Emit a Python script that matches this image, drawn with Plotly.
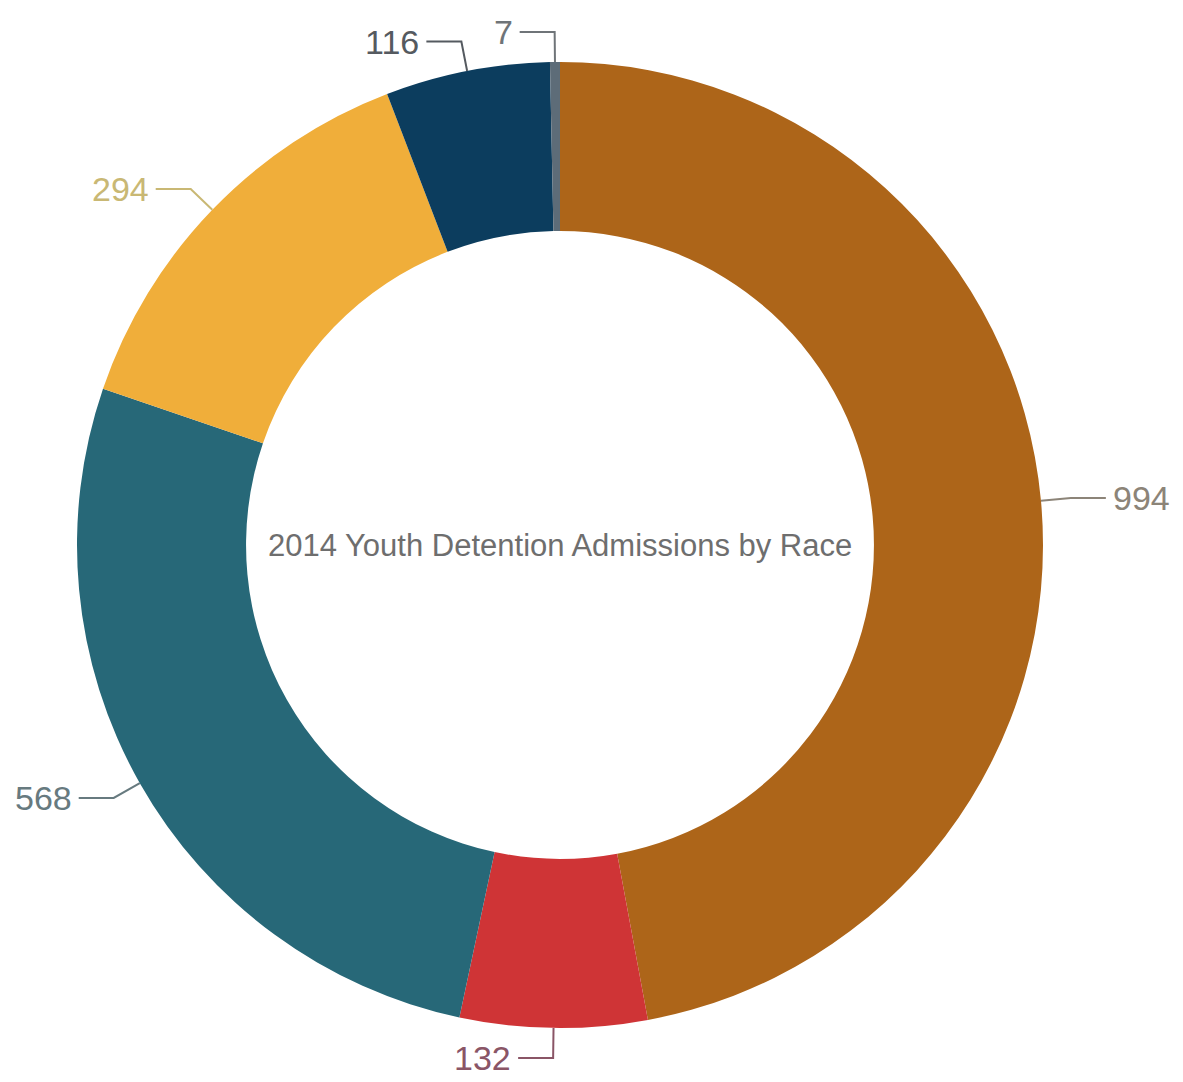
import math
import plotly.graph_objects as go

# 2014 youth detention admissions, clockwise from 12 o'clock
values = [994, 132, 568, 294, 116, 7]
slice_colors = ["#ad6519", "#cf3436", "#276878", "#f0ae3a", "#0c3d5e", "#5d6c78"]
label_colors = ["#8c8478", "#8a5566", "#677a7f", "#c9b874", "#555a60", "#6f7478"]
title_text = "2014 Youth Detention Admissions by Race"

W, H = 1183, 1082
CX, CY, R = 560, 545, 483          # donut centre and outer radius, px
HOLE = 0.65
ELBOW = 30                          # connector reach beyond the rim, px
RUN = 35                            # horizontal connector length, px
FONT = "Liberation Sans Narrow, Arial Narrow, Liberation Sans, sans-serif"


def to_paper(px, py):
    return px / W, 1 - py / H


x0, y0 = to_paper(CX - R, CY + R)
x1, y1 = to_paper(CX + R, CY - R)

fig = go.Figure(
    go.Pie(
        values=values,
        marker=dict(colors=slice_colors, line=dict(width=0)),
        hole=HOLE,
        sort=False,
        direction="clockwise",
        rotation=0,
        textinfo="none",
        hoverinfo="value",
        domain=dict(x=[x0, x1], y=[y0, y1]),
        showlegend=False,
    )
)

total = sum(values)
shapes, annotations = [], []
acc = 0
for v, lc in zip(values, label_colors):
    mid = 2 * math.pi * (acc + v / 2) / total
    acc += v
    sx, sy = math.sin(mid), -math.cos(mid)
    ex, ey = CX + R * sx, CY + R * sy
    kx, ky = CX + (R + ELBOW) * sx, CY + (R + ELBOW) * sy
    side = 1 if sx > 1e-6 else -1
    hx = kx + side * RUN
    pts = [to_paper(ex, ey), to_paper(kx, ky), to_paper(hx, ky)]
    path = "M {} {} L {} {} L {} {}".format(*[c for p in pts for c in p])
    shapes.append(dict(type="path", xref="paper", yref="paper", path=path,
                       line=dict(color=lc, width=2)))
    tx, ty = to_paper(hx + side * 5, ky)
    annotations.append(dict(
        x=tx, y=ty, xref="paper", yref="paper", text=str(v), showarrow=False,
        xanchor="left" if side > 0 else "right", yanchor="middle",
        font=dict(family=FONT, size=34, color=lc),
    ))

cx_p, cy_p = to_paper(CX, CY)
annotations.append(dict(
    x=cx_p, y=cy_p, xref="paper", yref="paper", text=title_text,
    showarrow=False, xanchor="center", yanchor="middle",
    font=dict(family=FONT, size=31, color="#6e6e6e"),
))

fig.update_layout(
    width=W, height=H,
    margin=dict(l=0, r=0, t=0, b=0),
    paper_bgcolor="white", plot_bgcolor="white",
    shapes=shapes, annotations=annotations,
)

fig.write_html("out.html")
